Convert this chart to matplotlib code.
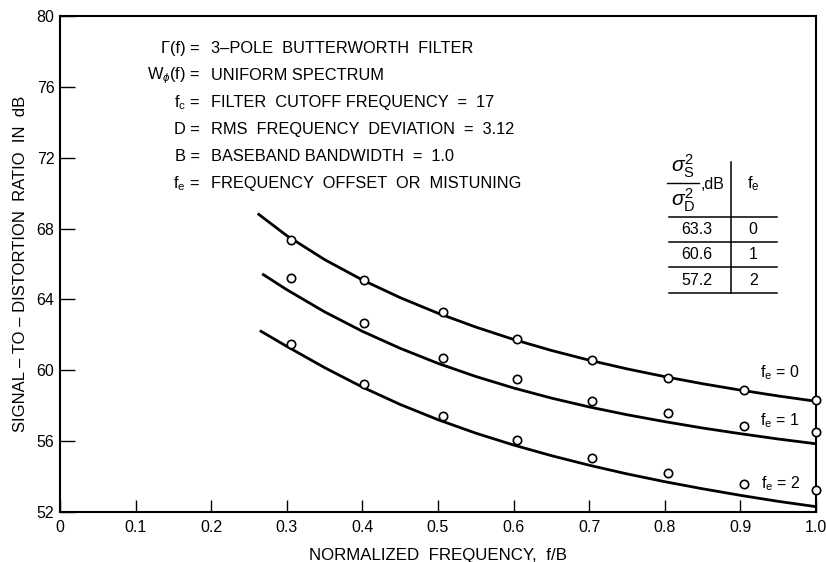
import numpy as np
import matplotlib
matplotlib.use("Agg")
from matplotlib import pyplot as plt

plt.rcParams['font.family'] = ['Liberation Sans', 'DejaVu Sans']
plt.rcParams['mathtext.fontset'] = 'custom'
plt.rcParams['mathtext.rm'] = 'Liberation Sans'
plt.rcParams['mathtext.it'] = 'Liberation Sans:italic'
plt.rcParams['mathtext.default'] = 'regular'

# measured points (circles)
pt_x = [0.305, 0.402, 0.507, 0.604, 0.704, 0.804, 0.905, 1.0]
pts_fe0 = [67.33, 65.09, 63.27, 61.74, 60.56, 59.56, 58.88, 58.30]
pts_fe1 = [65.19, 62.65, 60.67, 59.50, 58.26, 57.57, 56.83, 56.51]
pts_fe2 = [61.46, 59.24, 57.40, 56.06, 55.04, 54.21, 53.56, 53.24]

# computed curves
grid = [0.30, 0.35, 0.40, 0.45, 0.50, 0.55, 0.60, 0.65, 0.70, 0.75, 0.80, 0.85, 0.90, 0.95, 1.0]
curve_x0 = [0.263] + grid
curve_fe0 = [68.8, 67.6, 66.25, 65.1, 64.1, 63.22, 62.44, 61.74, 61.12, 60.57, 60.08, 59.64, 59.24, 58.88, 58.55, 58.25]
curve_x1 = [0.269] + grid
curve_fe1 = [65.4, 64.55, 63.3, 62.2, 61.24, 60.39, 59.65, 59.0, 58.43, 57.93, 57.49, 57.1, 56.74, 56.42, 56.12, 55.85]
curve_x2 = [0.266] + grid
curve_fe2 = [62.2, 61.35, 60.15, 59.05, 58.07, 57.21, 56.45, 55.78, 55.18, 54.64, 54.15, 53.71, 53.31, 52.94, 52.6, 52.3]

curve_labels = ['f$_e$ = 0', 'f$_e$ = 1', 'f$_e$ = 2']
curve_label_y = [59.84, 57.15, 53.6]

# inset table
table_snr = ['63.3', '60.6', '57.2']
table_fe = ['0', '1', '2']

params_left = ['\u0393(f) =', 'W$_{\\mathit{\\phi}}$(f) =', 'f$_c$ =', 'D =', 'B =', 'f$_e$ =']
params_right = ['3\u2013POLE  BUTTERWORTH  FILTER',
                'UNIFORM SPECTRUM',
                'FILTER  CUTOFF FREQUENCY  =  17',
                'RMS  FREQUENCY  DEVIATION  =  3.12',
                'BASEBAND BANDWIDTH  =  1.0',
                'FREQUENCY  OFFSET  OR  MISTUNING']

fig = plt.figure(figsize=(8.26, 5.62), dpi=100)
ax = fig.add_axes([0.0726, 0.089, 0.9153, 0.8825])

for cx, cy in [(curve_x0, curve_fe0), (curve_x1, curve_fe1), (curve_x2, curve_fe2)]:
    ax.plot(cx, cy, color='black', lw=2.0, zorder=3, solid_joinstyle='round')
for py in [pts_fe0, pts_fe1, pts_fe2]:
    ax.plot(pt_x, py, 'o', ms=6, mfc='white', mec='black', mew=1.2, zorder=5, clip_on=False)

for lab, ly in zip(curve_labels, curve_label_y):
    ax.text(0.979, ly, lab, ha='right', va='center', fontsize=11.5)

ax.set_xlim(0, 1.0)
ax.set_ylim(52, 80)
ax.set_xticks(np.arange(0, 1.01, 0.1))
ax.set_xticklabels(['0', '0.1', '0.2', '0.3', '0.4', '0.5', '0.6', '0.7', '0.8', '0.9', '1.0'])
ax.set_yticks(range(52, 81, 4))
ax.tick_params(axis='y', direction='in', length=11, width=1.0, labelsize=11.5, pad=4)
ax.tick_params(axis='x', direction='in', length=8.5, width=1.0, labelsize=11.5, pad=6)
for s in ax.spines.values():
    s.set_linewidth(1.5)

ax.set_xlabel('NORMALIZED  FREQUENCY,  f/B', fontsize=12.2, labelpad=9)
ax.set_ylabel('SIGNAL \u2013 TO \u2013 DISTORTION  RATIO  IN  dB', fontsize=12, labelpad=6)

# parameter list
row_y = [78.14, 76.62, 75.1, 73.58, 72.06, 70.54]
for left, right, ry in zip(params_left, params_right, row_y):
    ax.text(0.185, ry, left, ha='right', va='center', fontsize=11.8)
    ax.text(0.1997, ry, right, ha='left', va='center', fontsize=11.8)

# table
lw_t = 1.1
for hy in [68.63, 67.22, 65.84, 64.34]:
    ax.plot([0.8056, 0.948], [hy, hy], color='black', lw=lw_t)
ax.plot([0.887, 0.887], [64.34, 71.77], color='black', lw=lw_t)
ax.plot([0.803, 0.845], [70.59, 70.59], color='black', lw=1.0)
ax.text(0.824, 71.5, '$\\mathit{\\sigma}_S^2$', ha='center', va='center', fontsize=15)
ax.text(0.824, 69.6, '$\\mathit{\\sigma}_D^2$', ha='center', va='center', fontsize=15)
ax.text(0.847, 70.5, ',dB', ha='left', va='center', fontsize=11.5)
ax.text(0.917, 70.55, 'f$_e$', ha='center', va='center', fontsize=12)
for v, fe, ty in zip(table_snr, table_fe, [67.93, 66.52, 65.09]):
    ax.text(0.843, ty, v, ha='center', va='center', fontsize=11.5)
    ax.text(0.917, ty, fe, ha='center', va='center', fontsize=11.5)

fig.savefig('out.png', dpi=100)
